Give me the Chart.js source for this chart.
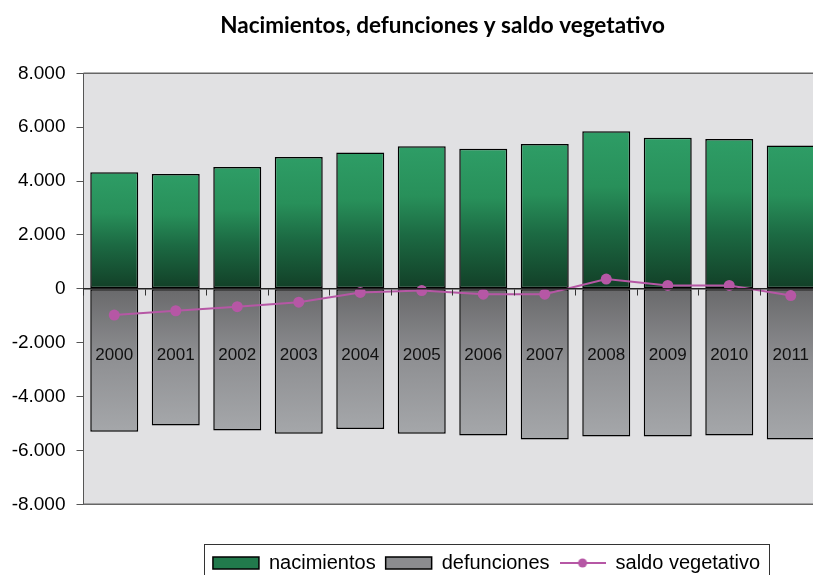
<!DOCTYPE html>
<html lang="es">
<head>
  <meta charset="UTF-8" />
  <title>Nacimientos, defunciones y saldo vegetativo</title>
  <style>
    html, body { margin: 0; padding: 0; background: #fff; overflow: hidden; }
    .chart-box { position: relative; width: 827px; height: 575px; }
  </style>
</head>
<body>

<div class="chart-box">
  <canvas id="saldoChart"></canvas>
</div>

<script src="https://cdn.jsdelivr.net/npm/chart.js"></script>
<script>
  // values
  const years = ['2000', '2001', '2002', '2003', '2004', '2005', '2006', '2007', '2008', '2009', '2010', '2011'];
  const nacimientos = [4330, 4260, 4520, 4890, 5060, 5290, 5200, 5380, 5850, 5610, 5560, 5320];
  const defunciones = [-5310, -5075, -5260, -5385, -5200, -5385, -5445, -5590, -5480, -5480, -5445, -5590];
  const saldo = [-975, -815, -665, -495, -135, -65, -200, -200, 360, 125, 125, -250];
  const yTicks = [-8000, -6000, -4000, -2000, 0, 2000, 4000, 6000, 8000];

  const MAGENTA = '#b657a5';
  const legendFills = ['#217a4c', '#8b8c8f'];

  // gradient from the bar end to the zero line
  function barGradient(stops) {
    return (ctx) => {
      const chart = ctx.chart;
      if (!chart.chartArea || ctx.raw === undefined) return stops[0][1];
      const y0 = chart.scales.y.getPixelForValue(0);
      const y1 = chart.scales.y.getPixelForValue(ctx.raw);
      if (y0 === y1) return stops[0][1];
      const g = chart.ctx.createLinearGradient(0, y1, 0, y0);
      stops.forEach(([o, c]) => g.addColorStop(o, c));
      return g;
    };
  }

  function fmt(v) {
    return String(v).replace(/\B(?=(\d{3})+(?!\d))/g, '.');
  }

  // little line-with-dot icon for the legend
  const lineIcon = document.createElement('canvas');
  lineIcon.width = 46;
  lineIcon.height = 12;
  (function () {
    const c = lineIcon.getContext('2d');
    c.strokeStyle = MAGENTA;
    c.lineWidth = 2;
    c.beginPath(); c.moveTo(0, 6); c.lineTo(46, 6); c.stroke();
    c.fillStyle = MAGENTA;
    c.beginPath(); c.arc(23, 6, 4.5, 0, Math.PI * 2); c.fill();
  })();

  const TITLE_DX = 29;
  const LEGEND_DX = 73;
  const LEGEND_DY = 38.7;

  const plotFrame = {
    id: 'plotFrame',
    afterLayout(chart) {
      const t = chart.titleBlock;
      t.left += TITLE_DX; t.right += TITLE_DX;
      const l = chart.legend;
      l.left += LEGEND_DX; l.right += LEGEND_DX;
      l.top += LEGEND_DY; l.bottom += LEGEND_DY;
    },
    beforeDraw(chart) {
      const { ctx, chartArea: a } = chart;
      ctx.save();
      ctx.fillStyle = '#e1e1e3';
      ctx.fillRect(a.left, a.top, a.right - a.left, a.bottom - a.top);
      ctx.restore();
    },
    afterDraw(chart) {
      const { ctx, chartArea: a } = chart;
      ctx.save();
      ctx.strokeStyle = '#666';
      ctx.lineWidth = 1.5;
      ctx.beginPath();
      ctx.moveTo(a.left, a.top); ctx.lineTo(a.right, a.top);
      ctx.moveTo(a.left, a.bottom); ctx.lineTo(a.right, a.bottom);
      ctx.stroke();

      // border round the legend
      const boxes = chart.legend.legendHitBoxes;
      if (boxes && boxes.length) {
        const x0 = Math.min(...boxes.map(b => b.left)) - 8.5;
        const x1 = Math.max(...boxes.map(b => b.left + b.width)) + 9;
        const y0 = Math.min(...boxes.map(b => b.top)) - 9.3;
        ctx.strokeStyle = '#333';
        ctx.lineWidth = 1;
        ctx.strokeRect(Math.round(x0) + 0.5, Math.round(y0) + 0.5, Math.round(x1 - x0), 60);
      }
      ctx.restore();
    }
  };

  new Chart(document.getElementById('saldoChart'), {
    type: 'bar',
    data: {
      labels: years,
      datasets: [
        {
          label: 'nacimientos',
          data: nacimientos,
          backgroundColor: barGradient([[0, '#2e9d66'], [0.35, '#28905a'], [0.62, '#1c6a43'], [1, '#123f27']]),
          borderColor: '#000',
          borderWidth: 1.5,
          borderSkipped: false,
          order: 2
        },
        {
          label: 'defunciones',
          data: defunciones,
          backgroundColor: barGradient([[0, '#a5a7aa'], [0.5, '#8f9093'], [1, '#69696b']]),
          borderColor: '#000',
          borderWidth: 1.5,
          borderSkipped: false,
          order: 2
        },
        {
          type: 'line',
          label: 'saldo vegetativo',
          data: saldo,
          borderColor: MAGENTA,
          backgroundColor: MAGENTA,
          borderWidth: 2,
          pointRadius: 5.5,
          pointBackgroundColor: MAGENTA,
          pointBorderWidth: 0,
          stack: 'saldo',
          order: 1
        }
      ]
    },
    options: {
      responsive: true,
      maintainAspectRatio: false,
      animation: false,
      barPercentage: 0.78,
      categoryPercentage: 1,
      layout: { padding: { left: 0, right: 0, top: 0, bottom: 30.7 } },
      plugins: {
        title: {
          display: true,
          text: 'Nacimientos, defunciones y saldo vegetativo',
          color: '#000',
          font: { family: 'Lato', size: 22.5, weight: 'bold' },
          padding: { top: 12, bottom: 34.3 }
        },
        legend: {
          position: 'bottom',
          labels: {
            usePointStyle: true,
            pointStyleWidth: 46,
            boxHeight: 12,
            padding: 10,
            color: '#000',
            font: { family: 'Liberation Sans', size: 20 },
            sort: (a, b) => a.datasetIndex - b.datasetIndex,
            generateLabels(chart) {
              const items = Chart.defaults.plugins.legend.labels.generateLabels(chart);
              items.forEach(item => {
                if (item.datasetIndex < 2) {
                  item.pointStyle = 'rect';
                  item.fillStyle = legendFills[item.datasetIndex];
                } else {
                  item.pointStyle = lineIcon;
                }
              });
              return items;
            }
          }
        },
        tooltip: { enabled: false }
      },
      scales: {
        x: {
          stacked: true,
          position: { y: 0 },
          offset: true,
          grid: { offset: true, drawOnChartArea: false, tickLength: 6, color: '#333', z: 1 },
          border: { color: '#222', width: 1.5, z: 1 },
          ticks: {
            padding: 50,
            z: 1,
            color: '#111',
            font: { family: 'Liberation Sans', size: 17 }
          },
          afterFit(scale) {
            // labels sit inside the plot, they need no side room
            scale.paddingLeft = 0;
            scale.paddingRight = 0;
          }
        },
        y: {
          min: yTicks[0],
          max: yTicks[yTicks.length - 1],
          afterBuildTicks(scale) {
            scale.ticks = yTicks.map(v => ({ value: v }));
          },
          afterFit(scale) {
            scale.width = 83.5;
          },
          grid: { drawOnChartArea: false, tickLength: 7, color: '#555' },
          border: { color: '#555', width: 1 },
          ticks: {
            padding: 11,
            color: '#000',
            font: { family: 'Liberation Sans', size: 19 },
            callback: (v) => fmt(v)
          }
        }
      }
    },
    plugins: [plotFrame]
  });
</script>
</body>
</html>
